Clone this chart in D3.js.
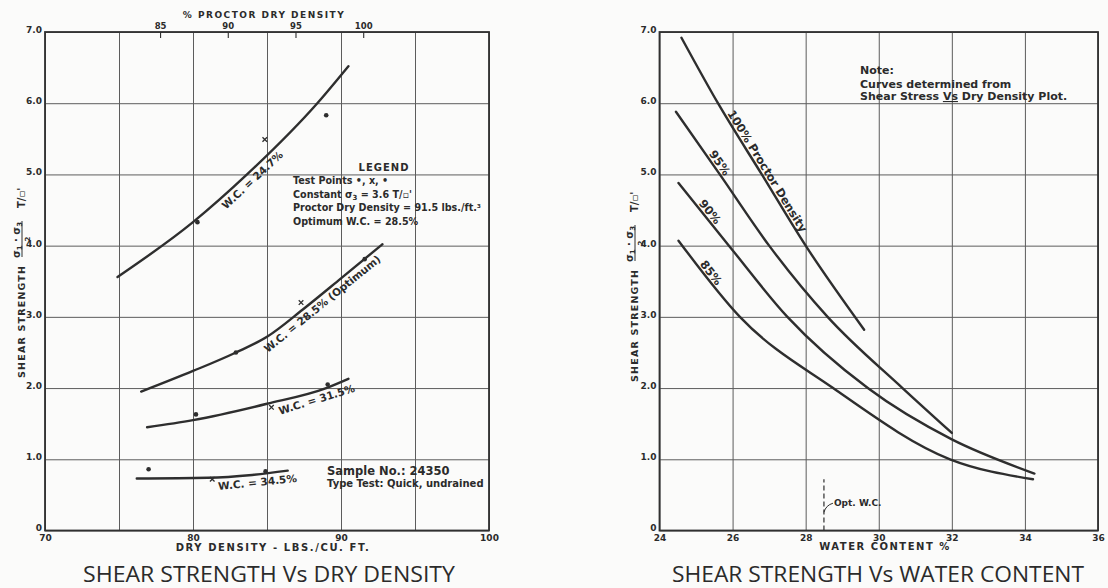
<!DOCTYPE html>
<html>
<head>
<meta charset="utf-8">
<script src="https://cdn.jsdelivr.net/npm/d3@7"></script>
<style>
  html, body { margin: 0; padding: 0; background: #fbfbfa; }
  svg { display: block; }
  .lab { font-family: "DejaVu Sans", sans-serif; font-weight: bold; fill: #2b2b2b; }
  .ttl { font-family: "Open Sans", "Noto Sans", sans-serif; fill: #2b2b2b; }
</style>
</head>
<body>
<svg id="chart" width="1108" height="588"></svg>
<script>
// ---------- Left panel: shear strength vs dry density ----------
const densityTicks = [70, 75, 80, 85, 90, 95, 100];
const densityTickLabels = ["70", "", "80", "", "90", "", "100"];
const proctorPctTicks = [85, 90, 95, 100];
const strengthTicks = [0, 1, 2, 3, 4, 5, 6, 7];
const strengthTickLabels = ["0", "1.0", "2.0", "3.0", "4.0", "5.0", "6.0", "7.0"];
const proctorMaxDensity = 91.5;   // lbs./ft.3
const confiningStress = 3.6;      // T/sq ft
const optimumWC = 28.5;           // %

// fitted curves, one per water content
const wcNames = ["W.C. = 24.7%", "W.C. = 28.5% (Optimum)", "W.C. = 31.5%", "W.C. = 34.5%"];
const wc247Density  = [74.9, 80.0, 83.65, 88.4, 90.5];
const wc247Strength = [3.56, 4.33, 5.0, 6.0, 6.52];
const wc285Density  = [76.5, 80.0, 82.9, 85.0, 87.4, 90.0, 92.8];
const wc285Strength = [1.95, 2.24, 2.5, 2.72, 3.1, 3.54, 4.02];
const wc315Density  = [76.9, 80.0, 85.0, 89.0, 90.5];
const wc315Strength = [1.45, 1.55, 1.78, 2.0, 2.13];
const wc345Density  = [76.2, 81.0, 84.0, 86.4];
const wc345Strength = [0.73, 0.74, 0.78, 0.84];
// where each curve label sits (dry density)
const wcLabelDensity = [83.65, 88.4, 88.2, 84.3];

// test points
const dotDensity   = [77.0, 84.9, 80.2, 89.1, 82.9, 91.6, 80.3, 89.0];
const dotStrength  = [0.86, 0.83, 1.63, 2.05, 2.50, 3.81, 4.33, 5.83];
const crossDensity  = [81.3, 85.3, 87.3, 84.85];
const crossStrength = [0.72, 1.73, 3.2, 5.49];

// ---------- Right panel: shear strength vs water content ----------
const waterTicks = [24, 26, 28, 30, 32, 34, 36];
const pctNames = ["100% Proctor Density", "95%", "90%", "85%"];
const p100WC = [24.6, 25.6, 26.8, 28.0, 29.6];
const p100Strength = [6.92, 6.0, 5.0, 4.0, 2.82];
const p95WC = [24.45, 25.65, 27.0, 28.6, 30.65, 32.0];
const p95Strength = [5.88, 5.0, 4.0, 3.0, 2.0, 1.37];
const p90WC = [24.52, 25.9, 27.5, 29.7, 32.0, 34.26];
const p90Strength = [4.88, 4.0, 3.0, 2.0, 1.28, 0.8];
const p85WC = [24.52, 26.2, 28.75, 31.95, 34.22];
const p85Strength = [4.07, 3.0, 2.0, 1.0, 0.72];
const pctLabelWC = [26.8, 25.5, 25.24, 25.27];
const optLineTop = 0.72;

// ---------- layout ----------
const svg = d3.select("#chart");
const L = { x0: 45, x1: 489, y0: 32, y1: 530.5 };
const R = { x0: 659.5, x1: 1098, y0: 32, y1: 530.5 };

const xD = d3.scaleLinear().domain([70, 100]).range([L.x0, L.x1]);
const xP = d3.scaleLinear().domain([70 / proctorMaxDensity * 100, 100 / proctorMaxDensity * 100]).range([L.x0, L.x1]);
const yL = d3.scaleLinear().domain([0, 7]).range([L.y1, L.y0]);
const xW = d3.scaleLinear().domain([24, 36]).range([R.x0, R.x1]);
const yR = d3.scaleLinear().domain([0, 7]).range([R.y1, R.y0]);

const ink = "#2e2e2e";
const gridInk = "#5c5c5c";

function styleAxis(g, size) {
  g.attr("font-family", null).attr("font-size", null);
  g.select(".domain").remove();
  g.selectAll(".tick line").attr("stroke", gridInk).attr("stroke-width", 1);
  g.selectAll(".tick text").attr("class", "lab").attr("fill", null).style("font-size", size + "px");
}

function panel(box, x, y, xTicks, xLabels) {
  const gx = svg.append("g").attr("transform", `translate(0,${box.y1})`)
    .call(d3.axisBottom(x).tickValues(xTicks).tickFormat((d, i) => xLabels[i])
      .tickSize(-(box.y1 - box.y0)).tickPadding(4));
  styleAxis(gx, 9);
  const gy = svg.append("g").attr("transform", `translate(${box.x0},0)`)
    .call(d3.axisLeft(y).tickValues(strengthTicks).tickFormat((d, i) => strengthTickLabels[i])
      .tickSize(-(box.x1 - box.x0)).tickPadding(3));
  styleAxis(gy, 9);
  gy.selectAll(".tick text").attr("dy", "0.05em");
  svg.append("rect").attr("x", box.x0).attr("y", box.y0)
    .attr("width", box.x1 - box.x0).attr("height", box.y1 - box.y0)
    .attr("fill", "none").attr("stroke", "#303030").attr("stroke-width", 1.8);
}

function yTitle(xBase, yStart) {
  const g = svg.append("g").attr("transform", `translate(${xBase},${yStart}) rotate(-90)`);
  g.append("text").attr("class", "lab").attr("x", 0).attr("y", 0)
    .style("font-size", "9.5px").style("letter-spacing", "1.2px").text("SHEAR STRENGTH");
  const num = g.append("text").attr("class", "lab").attr("x", 138).attr("y", -5)
    .attr("text-anchor", "middle").style("font-size", "10px");
  num.append("tspan").text("σ");
  num.append("tspan").attr("dy", 2).style("font-size", "7px").text("1");
  num.append("tspan").attr("dy", -2).text(" · σ");
  num.append("tspan").attr("dy", 2).style("font-size", "7px").text("3");
  g.append("line").attr("x1", 121).attr("x2", 157).attr("y1", -3).attr("y2", -3)
    .attr("stroke", ink).attr("stroke-width", 1);
  g.append("text").attr("class", "lab").attr("x", 139).attr("y", 4.5)
    .attr("text-anchor", "middle").style("font-size", "7px").text("2");
  g.append("text").attr("class", "lab").attr("x", 170).attr("y", 0)
    .style("font-size", "10px").text("T/▫'");
}

const lineL = d3.line().x(d => xD(d[0])).y(d => yL(d[1])).curve(d3.curveMonotoneX);
const lineR = d3.line().x(d => xW(d[0])).y(d => yR(d[1])).curve(d3.curveMonotoneX);

function curve(gen, xs, ys) {
  return svg.append("path").datum(d3.zip(xs, ys)).attr("d", gen)
    .attr("fill", "none").attr("stroke", ink).attr("stroke-width", 2.4)
    .attr("stroke-linecap", "round").node();
}

// text set along a drawn curve, rotated with its local slope
function labelOnPath(node, targetX, txt, offset, size) {
  const total = node.getTotalLength();
  let lo = 0, hi = total;
  for (let i = 0; i < 40; i++) {
    const mid = (lo + hi) / 2;
    if (node.getPointAtLength(mid).x < targetX) lo = mid; else hi = mid;
  }
  const at = (lo + hi) / 2;
  const p = node.getPointAtLength(at);
  const a = node.getPointAtLength(Math.max(0, at - 5));
  const b = node.getPointAtLength(Math.min(total, at + 5));
  const ang = Math.atan2(b.y - a.y, b.x - a.x) * 180 / Math.PI;
  svg.append("text").attr("class", "lab")
    .attr("transform", `translate(${p.x},${p.y}) rotate(${ang})`)
    .attr("y", offset).attr("text-anchor", "middle")
    .style("font-size", size + "px").text(txt);
}

// ===== left panel =====
panel(L, xD, yL, densityTicks, densityTickLabels);

const gTop = svg.append("g").attr("transform", `translate(0,${L.y0})`)
  .call(d3.axisTop(xP).tickValues(proctorPctTicks).tickFormat(d => d)
    .tickSize(-6).tickPadding(3));
styleAxis(gTop, 8.5);
gTop.selectAll(".tick line").attr("stroke", ink).attr("stroke-width", 1.1);
gTop.selectAll(".tick text").attr("y", -3).attr("dy", 0);

svg.append("text").attr("class", "lab").attr("x", 264).attr("y", 18)
  .attr("text-anchor", "middle").style("font-size", "9px").style("letter-spacing", "1.5px")
  .text("% PROCTOR DRY DENSITY");
svg.append("text").attr("class", "lab").attr("x", 273).attr("y", 551)
  .attr("text-anchor", "middle").style("font-size", "10px").style("letter-spacing", "1.6px")
  .text("DRY DENSITY - LBS./CU. FT.");
yTitle(25, 378);

const leftCurves = [
  curve(lineL, wc247Density, wc247Strength),
  curve(lineL, wc285Density, wc285Strength),
  curve(lineL, wc315Density, wc315Strength),
  curve(lineL, wc345Density, wc345Strength)
];
leftCurves.forEach((n, i) => labelOnPath(n, xD(wcLabelDensity[i]), wcNames[i], 11.5, 10.5));

svg.append("g").selectAll("circle").data(d3.zip(dotDensity, dotStrength)).join("circle")
  .attr("cx", d => xD(d[0])).attr("cy", d => yL(d[1])).attr("r", 2.3).attr("fill", ink);
svg.append("g").selectAll("path").data(d3.zip(crossDensity, crossStrength)).join("path")
  .attr("d", d => {
    const cx = xD(d[0]), cy = yL(d[1]), s = 2.3;
    return `M${cx - s},${cy - s}L${cx + s},${cy + s}M${cx - s},${cy + s}L${cx + s},${cy - s}`;
  })
  .attr("stroke", ink).attr("stroke-width", 1.3).attr("fill", "none");

// legend block
const lg = svg.append("g").attr("class", "lab").style("font-size", "9.6px");
lg.append("text").attr("x", 384).attr("y", 171).attr("text-anchor", "middle")
  .style("font-size", "10px").style("letter-spacing", "1px").text("LEGEND");
lg.append("text").attr("x", 293).attr("y", 184).text("Test Points   •, x, •");
const cst = lg.append("text").attr("x", 293).attr("y", 197.5);
cst.append("tspan").text("Constant σ");
cst.append("tspan").attr("dy", 2).style("font-size", "7px").text("3");
cst.append("tspan").attr("dy", -2).text(` = ${confiningStress.toFixed(1)}  T/▫'`);
lg.append("text").attr("x", 293).attr("y", 211).text(`Proctor Dry Density = ${proctorMaxDensity} lbs./ft.³`);
lg.append("text").attr("x", 293).attr("y", 224.5).text(`Optimum W.C. = ${optimumWC}%`);

svg.append("text").attr("class", "lab").attr("x", 327).attr("y", 475)
  .style("font-size", "11.5px").text("Sample No.: 24350");
svg.append("text").attr("class", "lab").attr("x", 327).attr("y", 487)
  .style("font-size", "10px").text("Type Test: Quick, undrained");

svg.append("text").attr("class", "ttl").attr("x", 269).attr("y", 582)
  .attr("text-anchor", "middle").style("font-size", "21px")
  .attr("textLength", 372).attr("lengthAdjust", "spacingAndGlyphs")
  .text("SHEAR STRENGTH Vs DRY DENSITY");

// ===== right panel =====
panel(R, xW, yR, waterTicks, waterTicks.map(String));
yTitle(638, 382);
svg.append("text").attr("class", "lab").attr("x", 885).attr("y", 550)
  .attr("text-anchor", "middle").style("font-size", "10px").style("letter-spacing", "1.5px")
  .text("WATER CONTENT %");

const rightCurves = [
  curve(lineR, p100WC, p100Strength),
  curve(lineR, p95WC, p95Strength),
  curve(lineR, p90WC, p90Strength),
  curve(lineR, p85WC, p85Strength)
];
rightCurves.forEach((n, i) => labelOnPath(n, xW(pctLabelWC[i]), pctNames[i], -2.5, 11.5));

// optimum water content marker
const ox = xW(optimumWC);
svg.append("line").attr("x1", ox).attr("x2", ox).attr("y1", yR(0)).attr("y2", yR(optLineTop))
  .attr("stroke", ink).attr("stroke-width", 1.2).attr("stroke-dasharray", "5,3");
svg.append("path")
  .attr("d", `M${ox},${yR(optLineTop) + 33} q2,-7 9,-9`)
  .attr("fill", "none").attr("stroke", ink).attr("stroke-width", 1);
svg.append("text").attr("class", "lab").attr("x", ox + 10).attr("y", yR(optLineTop) + 27)
  .style("font-size", "9px").text("Opt. W.C.");

// note
const note = svg.append("g").attr("class", "lab").style("font-size", "11px");
note.append("text").attr("x", 860).attr("y", 74).text("Note:");
note.append("text").attr("x", 860).attr("y", 87.5).text("Curves determined from");
const n3 = note.append("text").attr("x", 860).attr("y", 100);
n3.append("tspan").text("Shear Stress ");
n3.append("tspan").style("text-decoration", "underline").text("Vs");
n3.append("tspan").text(" Dry Density Plot.");

svg.append("text").attr("class", "ttl").attr("x", 878).attr("y", 582)
  .attr("text-anchor", "middle").style("font-size", "21px")
  .attr("textLength", 412).attr("lengthAdjust", "spacingAndGlyphs")
  .text("SHEAR STRENGTH Vs WATER CONTENT");
</script>
</body>
</html>
